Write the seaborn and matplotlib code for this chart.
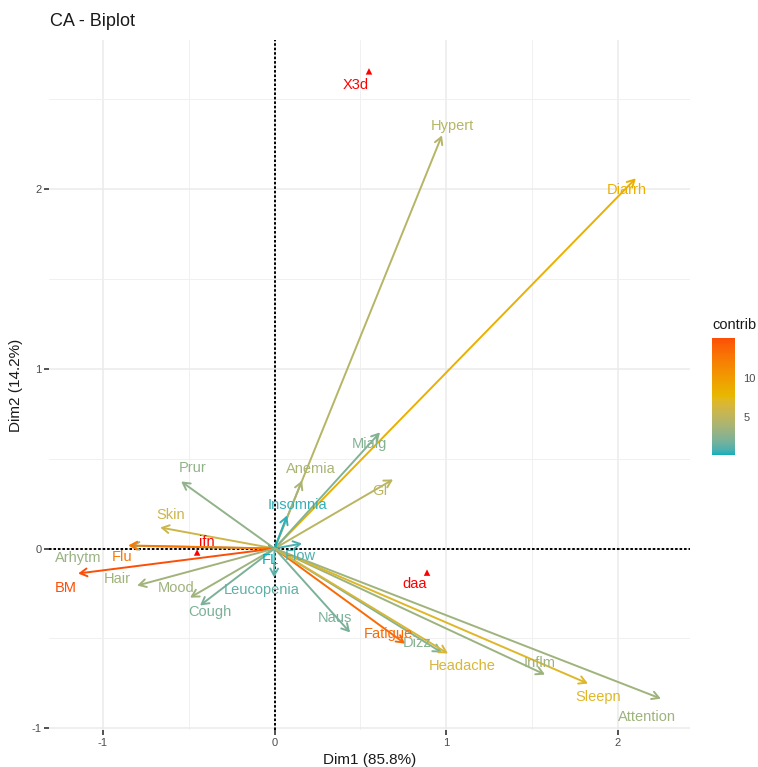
import numpy as np
import pandas as pd
import matplotlib
matplotlib.use("Agg")
import matplotlib.pyplot as plt
import matplotlib.colors as mcolors
import matplotlib.cm as cm
import seaborn as sns

# ---- data ----
row_names = ["Hypert", "Diarrh", "Mialg", "GI", "Anemia", "Insomnia", "Flow", "FL",
             "Leucopenia", "Prur", "Skin", "Arhytm", "Flu", "BM", "Hair", "Mood",
             "Cough", "Naus", "Fatigue", "Dizz", "Headache", "Inflm", "Sleepn", "Attention"]
row_dim1 = [0.975, 2.104, 0.614, 0.690, 0.160, 0.073, 0.160, 0.010,
            -0.003, -0.544, -0.666, -0.840, -0.852, -1.144, -0.800, -0.492,
            -0.434, 0.440, 0.760, 0.975, 1.010, 1.575, 1.825, 2.250]
row_dim2 = [2.298, 2.059, 0.646, 0.384, 0.378, 0.184, 0.028, -0.020,
            -0.161, 0.373, 0.117, 0.015, 0.017, -0.139, -0.206, -0.273,
            -0.317, -0.467, -0.529, -0.579, -0.584, -0.701, -0.751, -0.835]
row_contrib = [4.6, 8.3, 2.3, 4.8, 3.9, 0.4, 0.8, 0.1,
               1.2, 2.8, 5.8, 3.1, 12.6, 15.1, 3.5, 3.4,
               2.0, 2.0, 13.5, 2.4, 6.5, 3.3, 7.0, 3.4]

col_names = ["ifn", "daa", "X3d"]
col_dim1 = [-0.451, 0.888, 0.550]
col_dim2 = [-0.022, -0.134, 2.654]

x_label = "Dim1 (85.8%)"
y_label = "Dim2 (14.2%)"
title = "CA - Biplot"
cbar_ticks = [5, 10]
gradient_cols = ["#00AFBB", "#E7B800", "#FC4E07"]

# ---- label offsets in pixels (layout only) ----
row_label_offsets = {
    "Hypert": (10, 9), "Diarrh": (-9, -12), "Mialg": (-11, -12), "GI": (-13, -12),
    "Anemia": (9, 12), "Insomnia": (10, 10), "Flow": (-2, -13), "FL": (-6, -8),
    "Leucopenia": (-12, -13), "Prur": (11, 13), "Skin": (10, 12), "Arhytm": (-52, -12),
    "Flu": (-6, -12), "BM": (-12, -14), "Hair": (-20, 7), "Mood": (-14, 10),
    "Cough": (10, -6), "Naus": (-15, 14), "Fatigue": (-17, 10), "Dizz": (-25, 10),
    "Headache": (14, -12), "Inflm": (-5, 12), "Sleepn": (10, -13), "Attention": (-14, -18),
}
col_label_offsets = {"ifn": (10, 10), "daa": (-12, -11), "X3d": (-13, -14)}

rows = pd.DataFrame({"name": row_names, "Dim1": row_dim1, "Dim2": row_dim2, "contrib": row_contrib})
cols = pd.DataFrame({"name": col_names, "Dim1": col_dim1, "Dim2": col_dim2})


# ---- Lab-space gradient (like ggplot's scale_color_gradientn) ----
_M = np.array([[0.4124564, 0.3575761, 0.1804375],
               [0.2126729, 0.7151522, 0.0721750],
               [0.0193339, 0.1191920, 0.9503041]])
_WHITE = np.array([0.95047, 1.0, 1.08883])


def _srgb_to_lab(rgb):
    rgb = np.asarray(rgb, float)
    lin = np.where(rgb <= 0.04045, rgb / 12.92, ((rgb + 0.055) / 1.055) ** 2.4)
    xyz = _M @ lin / _WHITE
    f = np.where(xyz > (6 / 29) ** 3, np.cbrt(xyz), xyz / (3 * (6 / 29) ** 2) + 4 / 29)
    return np.array([116 * f[1] - 16, 500 * (f[0] - f[1]), 200 * (f[1] - f[2])])


def _lab_to_srgb(lab):
    L, a, b = lab
    fy = (L + 16) / 116
    fx = fy + a / 500
    fz = fy - b / 200
    f = np.array([fx, fy, fz])
    xyz = np.where(f > 6 / 29, f ** 3, 3 * (6 / 29) ** 2 * (f - 4 / 29)) * _WHITE
    lin = np.linalg.solve(_M, xyz)
    lin = np.clip(lin, 0, 1)
    rgb = np.where(lin <= 0.0031308, 12.92 * lin, 1.055 * lin ** (1 / 2.4) - 0.055)
    return np.clip(rgb, 0, 1)


labs = [_srgb_to_lab(mcolors.to_rgb(c)) for c in gradient_cols]
n = 256
lut = []
for t in np.linspace(0, 1, n):
    seg = min(int(t * (len(labs) - 1)), len(labs) - 2)
    u = t * (len(labs) - 1) - seg
    lab = labs[seg] * (1 - u) + labs[seg + 1] * u
    lut.append(_lab_to_srgb(lab))
cmap = mcolors.ListedColormap(lut, name="contrib_lab")
norm = mcolors.Normalize(vmin=min(row_contrib), vmax=max(row_contrib))

sns.set_theme(style="whitegrid")
plt.rcParams["font.family"] = ["Liberation Sans", "DejaVu Sans"]

W, H = 758, 767
fig = plt.figure(figsize=(W / 100, H / 100), dpi=100)
ax = fig.add_axes([49 / W, 1 - 730 / H, (690 - 49) / W, (730 - 40) / H])
ax.set_facecolor("white")

# limits with 5% expansion like ggplot
allx = np.array(row_dim1 + col_dim1)
ally = np.array(row_dim2 + col_dim2)
ex = 0.05 * (allx.max() - allx.min())
ey = 0.05 * (ally.max() - ally.min())
ax.set_xlim(allx.min() - ex, allx.max() + ex)
ax.set_ylim(ally.min() - ey, ally.max() + ey)

# grid
ax.set_xticks([-1, 0, 1, 2])
ax.set_yticks([-1, 0, 1, 2])
ax.set_xticks([-0.5, 0.5, 1.5], minor=True)
ax.set_yticks([-0.5, 0.5, 1.5, 2.5], minor=True)
ax.grid(which="major", color="#EBEBEB", lw=1.1)
ax.grid(which="minor", color="#F0F0F0", lw=0.7)
ax.set_axisbelow(True)
for s in ax.spines.values():
    s.set_visible(False)

# dashed reference lines
ax.axhline(0, color="black", lw=1.4, ls=(0, (1.3, 1.0)), zorder=1.5)
ax.axvline(0, color="black", lw=1.4, ls=(0, (1.3, 1.0)), zorder=1.5)

# row arrows + labels
for _, r in rows.iterrows():
    c = cmap(norm(r["contrib"]))
    ax.annotate("", xy=(r["Dim1"], r["Dim2"]), xytext=(0, 0),
                arrowprops=dict(arrowstyle="->,head_length=0.5,head_width=0.28",
                                color=c, lw=1.4, shrinkA=0, shrinkB=0, mutation_scale=10),
                zorder=2)
for _, r in rows.iterrows():
    c = cmap(norm(r["contrib"]))
    dx, dy = row_label_offsets[r["name"]]
    ax.annotate(r["name"], xy=(r["Dim1"], r["Dim2"]), xytext=(dx, dy),
                textcoords="offset pixels", ha="center", va="center",
                color=c, fontsize=10.5, zorder=3)

# column points + labels
sns.scatterplot(data=cols, x="Dim1", y="Dim2", marker="^", color="red",
                s=22, edgecolor="none", ax=ax, zorder=4, legend=False)
for _, r in cols.iterrows():
    dx, dy = col_label_offsets[r["name"]]
    ax.annotate(r["name"], xy=(r["Dim1"], r["Dim2"]), xytext=(dx, dy),
                textcoords="offset pixels", ha="center", va="center",
                color="red", fontsize=10.5, zorder=4)

ax.tick_params(axis="both", which="major", length=3.5, width=1.2, color="#333333",
               labelsize=8, labelcolor="#4D4D4D", pad=2, bottom=True, left=True)
ax.tick_params(which="minor", length=0)
ax.set_xticklabels(["-1", "0", "1", "2"])
ax.set_yticklabels(["-1", "0", "1", "2"])
ax.set_xlabel(x_label, fontsize=11, color="#1A1A1A", labelpad=4)
ax.set_ylabel(y_label, fontsize=11, color="#1A1A1A", labelpad=6)

fig.text(50 / W, 1 - 22 / H, title, fontsize=13, ha="left", va="center", color="#1A1A1A")

# colorbar
cax = fig.add_axes([712 / W, 1 - 455 / H, 23 / W, 117 / H])
sm = cm.ScalarMappable(norm=norm, cmap=cmap)
cb = fig.colorbar(sm, cax=cax, ticks=cbar_ticks)
cb.outline.set_visible(False)
cax.tick_params(direction="in", color="white", length=4, width=0.9, left=True, right=True,
                labelleft=False, labelright=True, labelsize=8, labelcolor="#4D4D4D", pad=6)
fig.text(712 / W, 1 - 325 / H, "contrib", fontsize=10.5, ha="left", va="center", color="#1A1A1A")

fig.savefig("out.png", dpi=100)
